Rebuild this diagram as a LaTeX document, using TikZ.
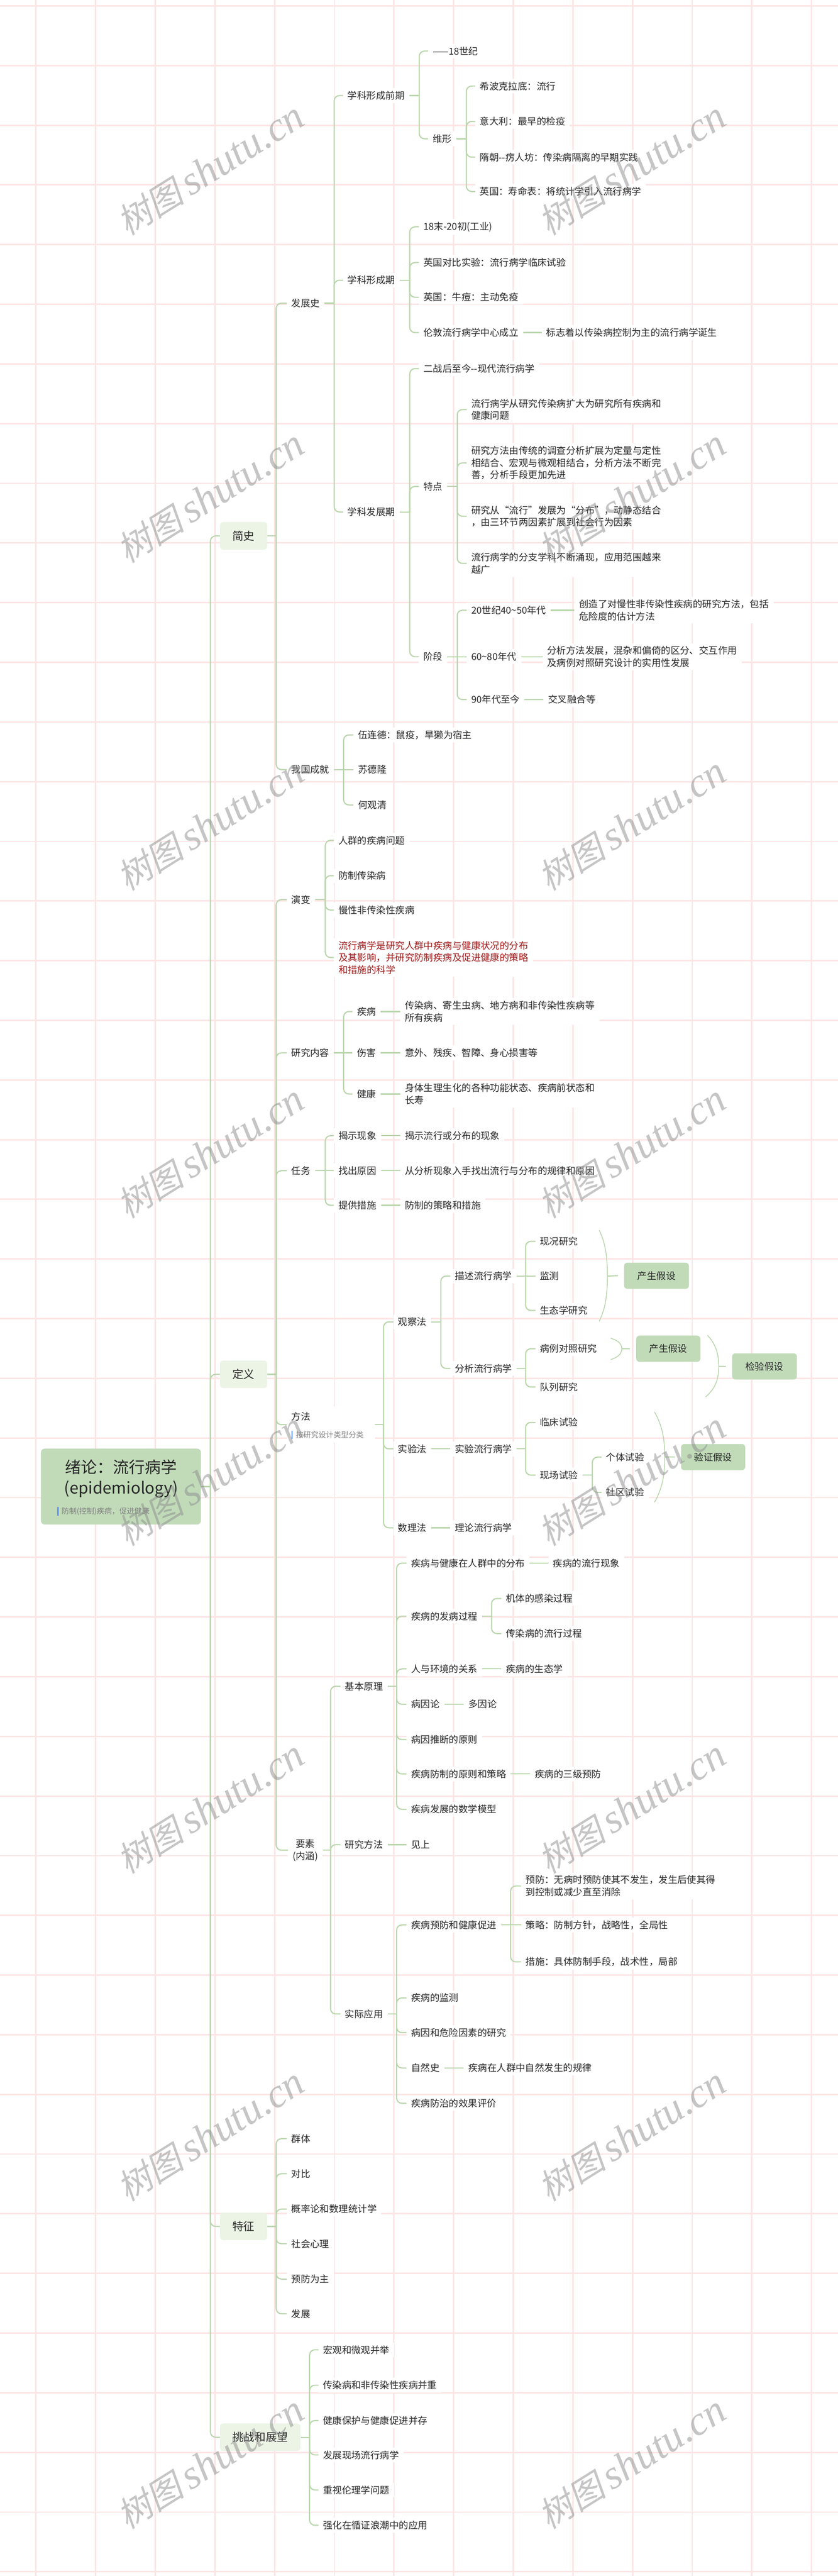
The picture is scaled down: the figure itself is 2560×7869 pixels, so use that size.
\documentclass[tikz,border=0pt]{standalone}
\usepackage{fontspec}
\setmainfont{Noto Sans CJK SC}
\newfontfamily\wmcjk[FakeSlant=0.22]{Noto Sans CJK SC}
\newfontfamily\wmlat{Liberation Serif}
\definecolor{txtc}{RGB}{38,38,38}
\definecolor{notec}{RGB}{128,128,128}
\definecolor{linec}{RGB}{185,214,172}
\definecolor{l1c}{RGB}{235,244,229}
\definecolor{hypc}{RGB}{193,219,185}
\definecolor{redc}{RGB}{160,24,24}
\definecolor{gridc}{RGB}{252,229,229}
\definecolor{barc}{RGB}{95,145,235}
\definecolor{wmc}{RGB}{140,140,140}
\newcommand\nfont{\fontsize{29pt}{37pt}\selectfont}
\newcommand\lfont{\fontsize{34pt}{40pt}\selectfont}
\newcommand\rfont{\fontsize{49pt}{60pt}\selectfont}
\newcommand\notefont{\fontsize{23pt}{28pt}\selectfont}
\newcommand\mnode[5][]{\node[tx,#1] (#2) at ({#3-14},#4) {#5};}
\newcommand\kids[3]{%
  \draw[conn] (#1.east) -- (#1.east -| #2,0);
  \foreach \kk in {#3} {\draw[conn] (#1.east -| #2,0) |- (\kk.west);}
}
\tikzset{
  tx/.style={anchor=west, fill=white, inner xsep=14pt, inner ysep=9pt, text=txtc, font=\nfont, align=left},
  redtx/.style={text=redc},
  l1/.style={anchor=west, fill=l1c, rounded corners=10pt, inner xsep=38pt, inner ysep=0pt, minimum height=84pt, text=txtc, font=\lfont},
  hyp/.style={fill=hypc, rounded corners=10pt, minimum width=198pt, minimum height=80pt, inner sep=0pt, text=txtc, font=\nfont},
  conn/.style={draw=linec, line width=3.5pt, rounded corners=16pt},
  bracel/.style={draw=linec, line width=2.5pt},
  gridln/.style={draw=gridc, line width=4.5pt},
  notebar/.style={draw=barc, line width=4pt},
  wm/.style={rotate=32, text=wmc, text opacity=0.5, inner sep=0pt},
}
\begin{document}
\begin{tikzpicture}[x=1pt,y=-1pt]
\fill[white] (0,0) rectangle (2560,7869);
\useasboundingbox (0,0) rectangle (2560,7869);
% grid
\foreach \i in {0,...,13} {\draw[gridln] ({110+182.28*\i},0) -- ({110+182.28*\i},7869);}
\foreach \j in {0,...,43} {\draw[gridln] (0,{18+182.28*\j}) -- (2560,{18+182.28*\j});}

% root
\node[fill=hypc, rounded corners=12pt, minimum width=489pt, minimum height=232pt, inner sep=0pt] (root) at (369.5,4541) {};
\node[font=\rfont, text=txtc, inner sep=0pt] (rt1) at (370,4482) {绪论：流行病学};
\node[font=\rfont, text=txtc, inner sep=0pt] (rt2) at (370,4550) {(epidemiology)};
\draw[notebar] (177,4603) -- (177,4630);
\node[anchor=west, font=\notefont, text=notec, inner sep=0pt] (rnote) at (188,4617) {防制(控制)疾病，促进健康};

% level 1
\node[l1] (js) at (672,1637) {简史};
\node[l1] (dy) at (672,4198) {定义};
\node[l1] (tz) at (672,6801) {特征};
\node[l1] (tw) at (672,7445) {挑战和展望};

% 简史
\mnode{fzs}{890}{926}{发展史}
\mnode{xq}{1062}{292}{学科形成前期}
\mnode{c18}{1322}{156}{——18世纪}
\mnode{wx}{1322}{424}{维形}
\mnode{h1}{1466}{263}{希波克拉底：流行}
\mnode{h2}{1466}{371}{意大利：最早的检疫}
\mnode{h3}{1466}{480}{隋朝-\kern0pt-疠人坊：传染病隔离的早期实践}
\mnode{h4}{1466}{585}{英国：寿命表：将统计学引入流行病学}
\mnode{xc}{1062}{856}{学科形成期}
\mnode{c1}{1294}{693}{18末-20初(工业)}
\mnode{c2}{1294}{802}{英国对比实验：流行病学临床试验}
\mnode{c3}{1294}{908}{英国：牛痘：主动免疫}
\mnode{c4}{1294}{1016}{伦敦流行病学中心成立}
\mnode{c4a}{1669}{1016}{标志着以传染病控制为主的流行病学诞生}
\mnode{xf}{1062}{1564}{学科发展期}
\mnode{d1}{1294}{1126}{二战后至今-\kern0pt-现代流行病学}
\mnode{td}{1294}{1486}{特点}
\mnode{t1}{1440}{1251}{流行病学从研究传染病扩大为研究所有疾病和\\健康问题}
\mnode{t2}{1440}{1414}{研究方法由传统的调查分析扩展为定量与定性\\相结合、宏观与微观相结合，分析方法不断完\\善，分析手段更加先进}
\mnode{t3}{1440}{1577}{研究从“流行”发展为“分布”，动静态结合\\，由三环节两因素扩展到社会行为因素}
\mnode{t4}{1440}{1721}{流行病学的分支学科不断涌现，应用范围越来\\越广}
\mnode{jd}{1294}{2006}{阶段}
\mnode{j1}{1440}{1864}{20世纪40\textasciitilde 50年代}
\mnode{j1a}{1769}{1864}{创造了对慢性非传染性疾病的研究方法，包括\\危险度的估计方法}
\mnode{j2}{1440}{2006}{60\textasciitilde 80年代}
\mnode{j2a}{1672}{2006}{分析方法发展，混杂和偏倚的区分、交互作用\\及病例对照研究设计的实用性发展}
\mnode{j3}{1440}{2137}{90年代至今}
\mnode{j3a}{1675}{2137}{交叉融合等}
\mnode{wg}{890}{2351}{我国成就}
\mnode{w1}{1094}{2245}{伍连德：鼠疫，旱獭为宿主}
\mnode{w2}{1094}{2351}{苏德隆}
\mnode{w3}{1094}{2459}{何观清}

% 定义
\mnode{yb}{890}{2748}{演变}
\mnode{y1}{1034}{2567}{人群的疾病问题}
\mnode{y2}{1034}{2675}{防制传染病}
\mnode{y3}{1034}{2780}{慢性非传染性疾病}
\mnode[redtx]{y4}{1034}{2925}{流行病学是研究人群中疾病与健康状况的分布\\及其影响，并研究防制疾病及促进健康的策略\\和措施的科学}
\mnode{yn}{890}{3216}{研究内容}
\mnode{n1}{1091}{3090}{疾病}
\mnode{n1a}{1237}{3090}{传染病、寄生虫病、地方病和非传染性疾病等\\所有疾病}
\mnode{n2}{1091}{3216}{伤害}
\mnode{n2a}{1237}{3216}{意外、残疾、智障、身心损害等}
\mnode{n3}{1091}{3342}{健康}
\mnode{n3a}{1237}{3342}{身体生理生化的各种功能状态、疾病前状态和\\长寿}
\mnode{rw}{890}{3576}{任务}
\mnode{r1}{1034}{3469}{揭示现象}
\mnode{r1a}{1237}{3469}{揭示流行或分布的现象}
\mnode{r2}{1034}{3576}{找出原因}
\mnode{r2a}{1237}{3576}{从分析现象入手找出流行与分布的规律和原因}
\mnode{r3}{1034}{3682}{提供措施}
\mnode{r3a}{1237}{3682}{防制的策略和措施}

\node[fill=white, anchor=west, minimum width=270pt, minimum height=110pt, inner sep=0pt] (ff) at (876,4352) {};
\node[anchor=west, font=\nfont, text=txtc, inner sep=0pt] (fft) at (890,4327) {方法};
\draw[notebar] (892,4370) -- (892,4395);
\node[anchor=west, font=\notefont, text=notec, inner sep=0pt] (ffn) at (904,4383) {按研究设计类型分类};

\mnode{g1}{1216}{4038}{观察法}
\mnode{ms}{1390}{3898}{描述流行病学}
\mnode{m1}{1650}{3792}{现况研究}
\mnode{m2}{1650}{3898}{监测}
\mnode{m3}{1650}{4003}{生态学研究}
\mnode{fx}{1390}{4180}{分析流行病学}
\mnode{f1}{1650}{4120}{病例对照研究}
\mnode{f2}{1650}{4237}{队列研究}
\mnode{g2}{1216}{4426}{实验法}
\mnode{sy}{1390}{4426}{实验流行病学}
\mnode{s1}{1650}{4345}{临床试验}
\mnode{s2}{1650}{4506}{现场试验}
\mnode{s21}{1852}{4451}{个体试验}
\mnode{s22}{1852}{4559}{社区试验}
\mnode{g3}{1216}{4667}{数理法}
\mnode{g3a}{1390}{4667}{理论流行病学}

\node[hyp] (hA) at (2006,3897) {产生假设};
\node[hyp, minimum width=196pt] (hB) at (2042,4120) {产生假设};
\node[hyp] (hC) at (2336,4174) {检验假设};
\node[hyp, minimum width=196pt] (hD) at (2179,4451) {验证假设};

\node[tx, align=center] (ys) at (880,5652) {要素\\(内涵)};
\mnode{jb}{1054}{5151}{基本原理}
\mnode{b1}{1256}{4775}{疾病与健康在人群中的分布}
\mnode{b1a}{1690}{4775}{疾病的流行现象}
\mnode{b2}{1256}{4937}{疾病的发病过程}
\mnode{b21}{1546}{4883}{机体的感染过程}
\mnode{b22}{1546}{4990}{传染病的流行过程}
\mnode{b3}{1256}{5098}{人与环境的关系}
\mnode{b3a}{1546}{5098}{疾病的生态学}
\mnode{b4}{1256}{5206}{病因论}
\mnode{b4a}{1431}{5206}{多因论}
\mnode{b5}{1256}{5314}{病因推断的原则}
\mnode{b6}{1256}{5419}{疾病防制的原则和策略}
\mnode{b6a}{1634}{5419}{疾病的三级预防}
\mnode{b7}{1256}{5527}{疾病发展的数学模型}
\mnode{yf}{1054}{5635}{研究方法}
\mnode{yfa}{1256}{5635}{见上}
\mnode{sj}{1054}{6152}{实际应用}
\mnode{a1}{1256}{5880}{疾病预防和健康促进}
\mnode{a11}{1606}{5761}{预防：无病时预防使其不发生，发生后使其得\\到控制或减少直至消除}
\mnode{a12}{1606}{5880}{策略：防制方针，战略性，全局性}
\mnode{a13}{1606}{5993}{措施：具体防制手段，战术性，局部}
\mnode{a2}{1256}{6103}{疾病的监测}
\mnode{a3}{1256}{6209}{病因和危险因素的研究}
\mnode{a4}{1256}{6317}{自然史}
\mnode{a4a}{1431}{6317}{疾病在人群中自然发生的规律}
\mnode{a5}{1256}{6425}{疾病防治的效果评价}

% 特征
\mnode{z1}{890}{6533}{群体}
\mnode{z2}{890}{6640}{对比}
\mnode{z3}{890}{6748}{概率论和数理统计学}
\mnode{z4}{890}{6854}{社会心理}
\mnode{z5}{890}{6962}{预防为主}
\mnode{z6}{890}{7068}{发展}

% 挑战和展望
\mnode{q1}{987}{7178}{宏观和微观并举}
\mnode{q2}{987}{7286}{传染病和非传染性疾病并重}
\mnode{q3}{987}{7394}{健康保护与健康促进并存}
\mnode{q4}{987}{7499}{发展现场流行病学}
\mnode{q5}{987}{7606}{重视伦理学问题}
\mnode{q6}{987}{7714}{强化在循证浪潮中的应用}

% connectors
\kids{root}{643}{js,dy,tz,tw}
\kids{js}{844}{fzs,wg}
\kids{fzs}{1021}{xq,xc,xf}
\kids{xq}{1281}{c18,wx}
\kids{wx}{1425}{h1,h2,h3,h4}
\kids{xc}{1252}{c1,c2,c3,c4}
\draw[conn] (c4.east) -- (c4a.west);
\kids{xf}{1252}{d1,td,jd}
\kids{td}{1397}{t1,t2,t3,t4}
\kids{jd}{1397}{j1,j3}
\draw[conn] (jd.east) -- (j2.west);
\draw[conn] (j1.east) -- (j1a.west);
\draw[conn] (j2.east) -- (j2a.west);
\draw[conn] (j3.east) -- (j3a.west);
\kids{wg}{1050}{w1,w3}
\draw[conn] (wg.east) -- (w2.west);

\kids{dy}{844}{yb,yn,rw,ff,ys}
\kids{yb}{994}{y1,y2,y3,y4}
\kids{yn}{1050}{n1,n3}
\draw[conn] (yn.east) -- (n2.west);
\draw[conn] (n1.east) -- (n1a.west);
\draw[conn] (n2.east) -- (n2a.west);
\draw[conn] (n3.east) -- (n3a.west);
\kids{rw}{994}{r1,r3}
\draw[conn] (rw.east) -- (r2.west);
\draw[conn] (r1.east) -- (r1a.west);
\draw[conn] (r2.east) -- (r2a.west);
\draw[conn] (r3.east) -- (r3a.west);
\kids{ff}{1172}{g1,g2,g3}
\kids{g1}{1347}{ms,fx}
\kids{ms}{1606}{m1,m3}
\draw[conn] (ms.east) -- (m2.west);
\kids{fx}{1606}{f1,f2}
\draw[conn] (g2.east) -- (sy.west);
\kids{sy}{1606}{s1,s2}
\kids{s2}{1810}{s21,s22}
\draw[conn] (g3.east) -- (g3a.west);
\kids{ys}{1010}{jb,yf,sj}
\kids{jb}{1212}{b1,b2,b3,b4,b5,b6,b7}
\draw[conn] (b1.east) -- (b1a.west);
\kids{b2}{1502}{b21,b22}
\draw[conn] (b3.east) -- (b3a.west);
\draw[conn] (b4.east) -- (b4a.west);
\draw[conn] (b6.east) -- (b6a.west);
\draw[conn] (yf.east) -- (yfa.west);
\kids{sj}{1212}{a1,a2,a3,a4,a5}
\kids{a1}{1560}{a11,a13}
\draw[conn] (a1.east) -- (a12.west);
\draw[conn] (a4.east) -- (a4a.west);
\kids{tz}{844}{z1,z2,z3,z4,z5,z6}
\kids{tw}{946}{q1,q2,q3,q4,q5,q6}

% braces
\coordinate (bAt) at (1831,3758); \coordinate (bAm) at (1856,3898); \coordinate (bAb) at (1831,4036);
\draw[bracel] (bAt) .. controls (1852,3800) and (1856,3850) .. (bAm) .. controls (1856,3946) and (1852,3994) .. (bAb);
\draw[conn] (bAm) -- ([xshift=-19pt]hA.west);
\coordinate (bBt) at (1866,4088); \coordinate (bBm) at (1900,4120); \coordinate (bBb) at (1866,4153);
\draw[bracel] (bBt) .. controls (1893,4096) and (1900,4108) .. (bBm) .. controls (1900,4132) and (1893,4145) .. (bBb);
\draw[conn] (bBm) -- ([xshift=-19pt]hB.west);
\coordinate (bCt) at (2162,4079); \coordinate (bCm) at (2196,4174); \coordinate (bCb) at (2156,4267);
\draw[bracel] (bCt) .. controls (2190,4110) and (2196,4140) .. (bCm) .. controls (2196,4210) and (2188,4240) .. (bCb);
\draw[conn] (bCm) -- ([xshift=-19pt]hC.west);
\coordinate (bDt) at (2000,4313); \coordinate (bDm) at (2031,4451); \coordinate (bDb) at (2000,4589);
\draw[bracel] (bDt) .. controls (2026,4360) and (2031,4400) .. (bDm) .. controls (2031,4502) and (2026,4542) .. (bDb);
\draw[conn] (bDm) -- ([xshift=-19pt]hD.west);

% watermarks
\foreach \k in {0,...,7} {
  \node[wm] at (643,{516+1001*\k}) {{\wmcjk\fontsize{105pt}{110pt}\selectfont 树图}\hspace{18pt}{\wmlat\itshape\fontsize{125pt}{130pt}\selectfont shutu.cn}};
  \node[wm] at (1931,{516+1001*\k}) {{\wmcjk\fontsize{105pt}{110pt}\selectfont 树图}\hspace{18pt}{\wmlat\itshape\fontsize{125pt}{130pt}\selectfont shutu.cn}};
}
\end{tikzpicture}
\end{document}
